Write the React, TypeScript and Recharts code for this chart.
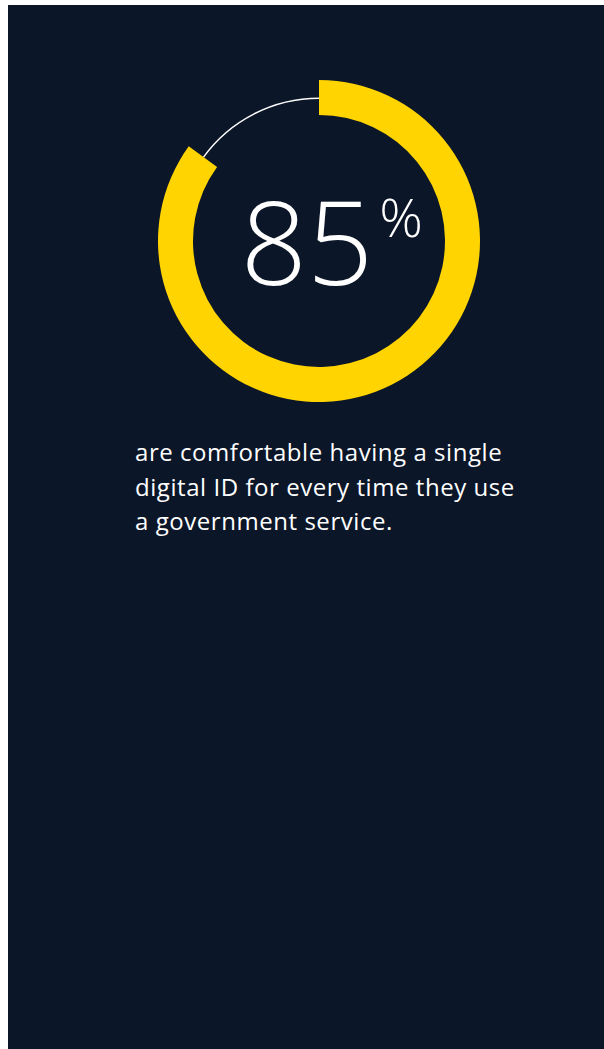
import { PieChart, Pie, Cell } from "recharts";

const categories = ["Comfortable", "Not comfortable"];
const shares = [85, 15];
const headline = "85";
const caption = [
  "are comfortable having a single",
  "digital ID for every time they use",
  "a government service.",
];

const data = categories.map((name, i) => ({ name, value: shares[i] }));

const BG = "#0b1628";
const YELLOW = "#ffd400";
const FONT = "'Open Sans', 'Noto Sans', sans-serif";

export default function App() {
  return (
    <div style={{ position: "absolute", left: 8, top: 5, width: 596, height: 1044, background: BG, overflow: "hidden" }}>
      <PieChart width={596} height={420} margin={{ top: 0, right: 0, bottom: 0, left: 0 }}>
        {/* thin white track for the remainder */}
        <Pie
          data={data}
          dataKey="value"
          cx={311}
          cy={236}
          startAngle={90}
          endAngle={-270}
          innerRadius={142}
          outerRadius={143.5}
          stroke="none"
          isAnimationActive={false}
        >
          {data.map((d, i) => (
            <Cell key={`thin-${i}`} fill={i === 1 ? "#ffffff" : "transparent"} />
          ))}
        </Pie>
        <Pie
          data={data}
          dataKey="value"
          cx={311}
          cy={236}
          startAngle={90}
          endAngle={-270}
          innerRadius={126}
          outerRadius={161}
          stroke="none"
          isAnimationActive={false}
        >
          {data.map((d, i) => (
            <Cell key={`ring-${i}`} fill={i === 0 ? YELLOW : "transparent"} />
          ))}
        </Pie>
        <text x={299} y={280} textAnchor="middle" fill="#ffffff" fontFamily={FONT} fontWeight={300} fontSize={116}>
          {headline}
        </text>
        <text x={393} y={232} textAnchor="middle" fill="#ffffff" fontFamily={FONT} fontWeight={300} fontSize={54}>
          %
        </text>
      </PieChart>
      <div
        style={{
          position: "absolute",
          left: 127,
          top: 430,
          color: "#ffffff",
          fontFamily: FONT,
          fontWeight: 400,
          fontSize: 24,
          lineHeight: "34.5px",
          letterSpacing: 0.55,
          whiteSpace: "nowrap",
        }}
      >
        {caption.map((line, i) => (
          <div key={i}>{line}</div>
        ))}
      </div>
    </div>
  );
}
